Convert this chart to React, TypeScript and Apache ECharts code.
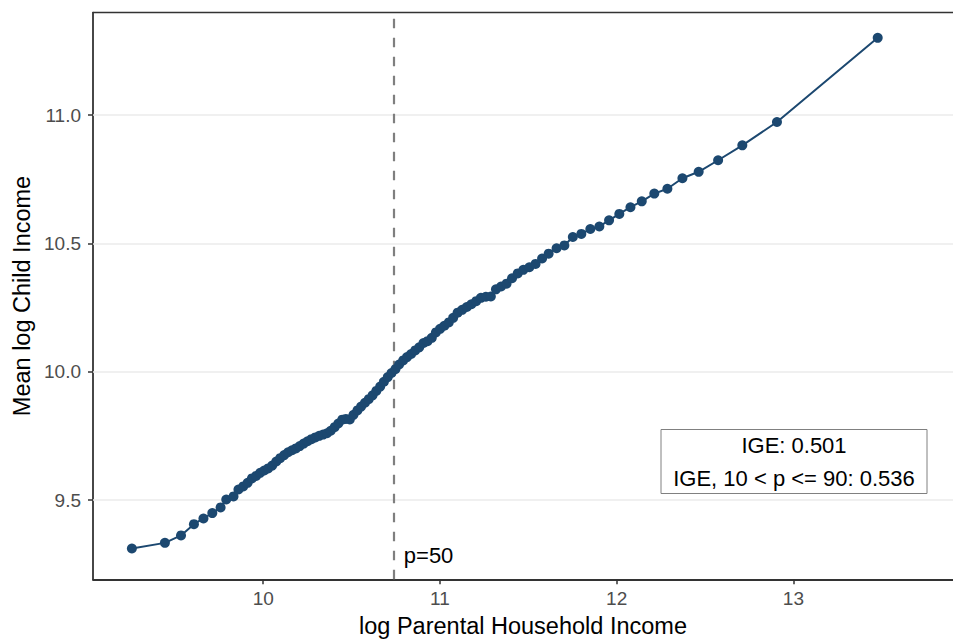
import React, { useEffect, useRef } from "react";
import * as echarts from "echarts";

// Binned points: mean log parental household income (x) vs mean log child income (y)
const parentLogIncome = [
  9.257, 9.444, 9.535, 9.608, 9.662, 9.712, 9.759, 9.791, 9.832, 9.86,
  9.887, 9.912, 9.936, 9.96, 9.983, 10.006, 10.028, 10.051, 10.074, 10.096,
  10.119, 10.141, 10.163, 10.185, 10.207, 10.229, 10.251, 10.273, 10.295, 10.317,
  10.339, 10.361, 10.382, 10.404, 10.425, 10.447, 10.468, 10.49, 10.511, 10.533,
  10.554, 10.576, 10.597, 10.619, 10.64, 10.662, 10.683, 10.705, 10.726, 10.748,
  10.769, 10.792, 10.814, 10.837, 10.86, 10.883, 10.907, 10.93, 10.954, 10.977,
  11.001, 11.025, 11.05, 11.075, 11.1, 11.126, 11.152, 11.178, 11.205, 11.232,
  11.26, 11.288, 11.317, 11.346, 11.377, 11.408, 11.44, 11.472, 11.506, 11.541,
  11.578, 11.615, 11.66, 11.704, 11.752, 11.8, 11.851, 11.902, 11.957, 12.015,
  12.078, 12.142, 12.213, 12.287, 12.372, 12.464, 12.574, 12.711, 12.907, 13.477,
];

const childLogIncome = [
  9.311, 9.333, 9.362, 9.406, 9.428, 9.449, 9.471, 9.502, 9.514, 9.541,
  9.553, 9.567, 9.584, 9.594, 9.606, 9.615, 9.623, 9.634, 9.65, 9.663,
  9.675, 9.686, 9.694, 9.701, 9.71, 9.72, 9.729, 9.737, 9.744, 9.75,
  9.755, 9.76, 9.77, 9.784, 9.798, 9.813, 9.816, 9.814, 9.832, 9.849,
  9.864, 9.879, 9.893, 9.908, 9.925, 9.942, 9.961, 9.979, 9.995, 10.01,
  10.028, 10.044, 10.057, 10.069, 10.083, 10.095, 10.112, 10.119, 10.132, 10.153,
  10.167, 10.179, 10.192, 10.21, 10.23, 10.241, 10.252, 10.263, 10.275, 10.288,
  10.292, 10.293, 10.321, 10.332, 10.343, 10.364, 10.383, 10.397, 10.407, 10.42,
  10.441, 10.46, 10.481, 10.492, 10.525, 10.537, 10.556, 10.566, 10.59, 10.615,
  10.641, 10.664, 10.694, 10.713, 10.754, 10.779, 10.824, 10.882, 10.973, 11.301,
];

const xTicks = [10, 11, 12, 13];
const yTicks = [9.5, 10.0, 10.5, 11.0];
const medianParentLogIncome = 10.739;
const medianLabel = "p=50";
const medianLabelY = 9.283;
const annotationLines = ["IGE: 0.501", "IGE, 10 < p <= 90: 0.536"];
const xTitle = "log Parental Household Income";
const yTitle = "Mean log Child Income";

export default function App() {
  const ref = useRef<HTMLDivElement>(null);

  useEffect(() => {
    if (!ref.current) return;
    const chart = echarts.init(ref.current, null, { renderer: "svg" });
    const FONT = "'Liberation Sans', Arial, Helvetica, sans-serif";
    const X_MIN = 9.037;
    const X_MAX = 13.903;
    const Y_MIN = 9.191;
    const Y_MAX = 11.399;
    const DOT = "#1c4870";
    const points = parentLogIncome.map((x, i) => [x, childLogIncome[i]]);

    chart.setOption({
      animation: false,
      backgroundColor: "#ffffff",
      grid: {
        left: 93,
        right: 0,
        top: 12.7,
        bottom: 59.7,
        outerBoundsMode: "none",
      },
      xAxis: [
        {
          type: "value",
          min: X_MIN,
          max: X_MAX,
          position: "bottom",
          axisLine: { show: true, onZero: false, lineStyle: { color: "#333333", width: 1.8 } },
          axisTick: {
            show: true,
            length: 5,
            customValues: xTicks,
            lineStyle: { color: "#333333", width: 1.5 },
          },
          axisLabel: {
            customValues: xTicks,
            formatter: (v: number) => String(Math.round(v)),
            color: "#4d4d4d",
            fontSize: 19,
            fontFamily: FONT,
            margin: 10,
          },
          splitLine: { show: false },
        },
        {
          type: "value",
          min: X_MIN,
          max: X_MAX,
          position: "top",
          axisLine: { show: true, onZero: false, lineStyle: { color: "#333333", width: 1.3 } },
          axisTick: { show: false },
          axisLabel: { show: false },
          splitLine: { show: false },
        },
      ],
      yAxis: {
        type: "value",
        min: Y_MIN,
        max: Y_MAX,
        axisLine: { show: true, onZero: false, lineStyle: { color: "#333333", width: 1.8 } },
        axisTick: {
          show: true,
          length: 5,
          customValues: yTicks,
          lineStyle: { color: "#333333", width: 1.5 },
        },
        axisLabel: {
          customValues: yTicks,
          formatter: (v: number) => v.toFixed(1),
          color: "#4d4d4d",
          fontSize: 19,
          fontFamily: FONT,
          margin: 12,
        },
        splitLine: { show: false },
      },
      series: [
        {
          type: "line",
          data: [],
          z: 1,
          silent: true,
          markLine: {
            z: 1,
            silent: true,
            symbol: ["none", "none"],
            label: { show: false },
            emphasis: { disabled: true },
            lineStyle: { color: "#ebebeb", width: 1.6, type: "solid" },
            data: yTicks.map((v) => ({ yAxis: v })),
          },
        },
        {
          type: "line",
          data: [],
          z: 2,
          silent: true,
          markLine: {
            z: 2,
            silent: true,
            symbol: ["none", "none"],
            label: { show: false },
            emphasis: { disabled: true },
            lineStyle: { color: "#7f7f7f", width: 2.2, type: [9.5, 9.5] },
            data: [{ xAxis: medianParentLogIncome }],
          },
        },
        {
          type: "line",
          data: points,
          z: 6,
          symbol: "circle",
          symbolSize: 10,
          showAllSymbol: true,
          lineStyle: { color: DOT, width: 2 },
          itemStyle: { color: DOT },
        },
      ],
    });

    const p50 = chart.convertToPixel({ seriesIndex: 2 }, [medianParentLogIncome, medianLabelY]) as number[];

    chart.setOption({
      graphic: [
        {
          type: "text",
          x: 22,
          y: 296,
          rotation: Math.PI / 2,
          style: {
            text: yTitle,
            fontSize: 23.5,
            fontFamily: FONT,
            fill: "#000000",
            align: "center",
            verticalAlign: "middle",
          },
        },
        {
          type: "text",
          x: 523,
          y: 626,
          style: {
            text: xTitle,
            fontSize: 23.5,
            fontFamily: FONT,
            fill: "#000000",
            align: "center",
            verticalAlign: "middle",
          },
        },
        {
          type: "text",
          x: p50[0] + 10,
          y: p50[1],
          z: 10,
          style: {
            text: medianLabel,
            fontSize: 22,
            fontFamily: FONT,
            fill: "#000000",
            align: "left",
            verticalAlign: "middle",
          },
        },
        {
          type: "rect",
          z: 10,
          shape: { x: 661, y: 429.5, width: 266, height: 64 },
          style: { fill: "#ffffff", stroke: "#808080", lineWidth: 1 },
        },
        {
          type: "text",
          x: 794,
          y: 445.7,
          z: 11,
          style: {
            text: annotationLines[0],
            fontSize: 22,
            fontFamily: FONT,
            fill: "#000000",
            align: "center",
            verticalAlign: "middle",
          },
        },
        {
          type: "text",
          x: 794,
          y: 478.3,
          z: 11,
          style: {
            text: annotationLines[1],
            fontSize: 22,
            fontFamily: FONT,
            fill: "#000000",
            align: "center",
            verticalAlign: "middle",
          },
        },
      ],
    });

    return () => {
      chart.dispose();
    };
  }, []);

  return (
    <div
      ref={ref}
      style={{ position: "fixed", left: 0, top: 0, width: 953, height: 639, background: "#ffffff" }}
    />
  );
}
